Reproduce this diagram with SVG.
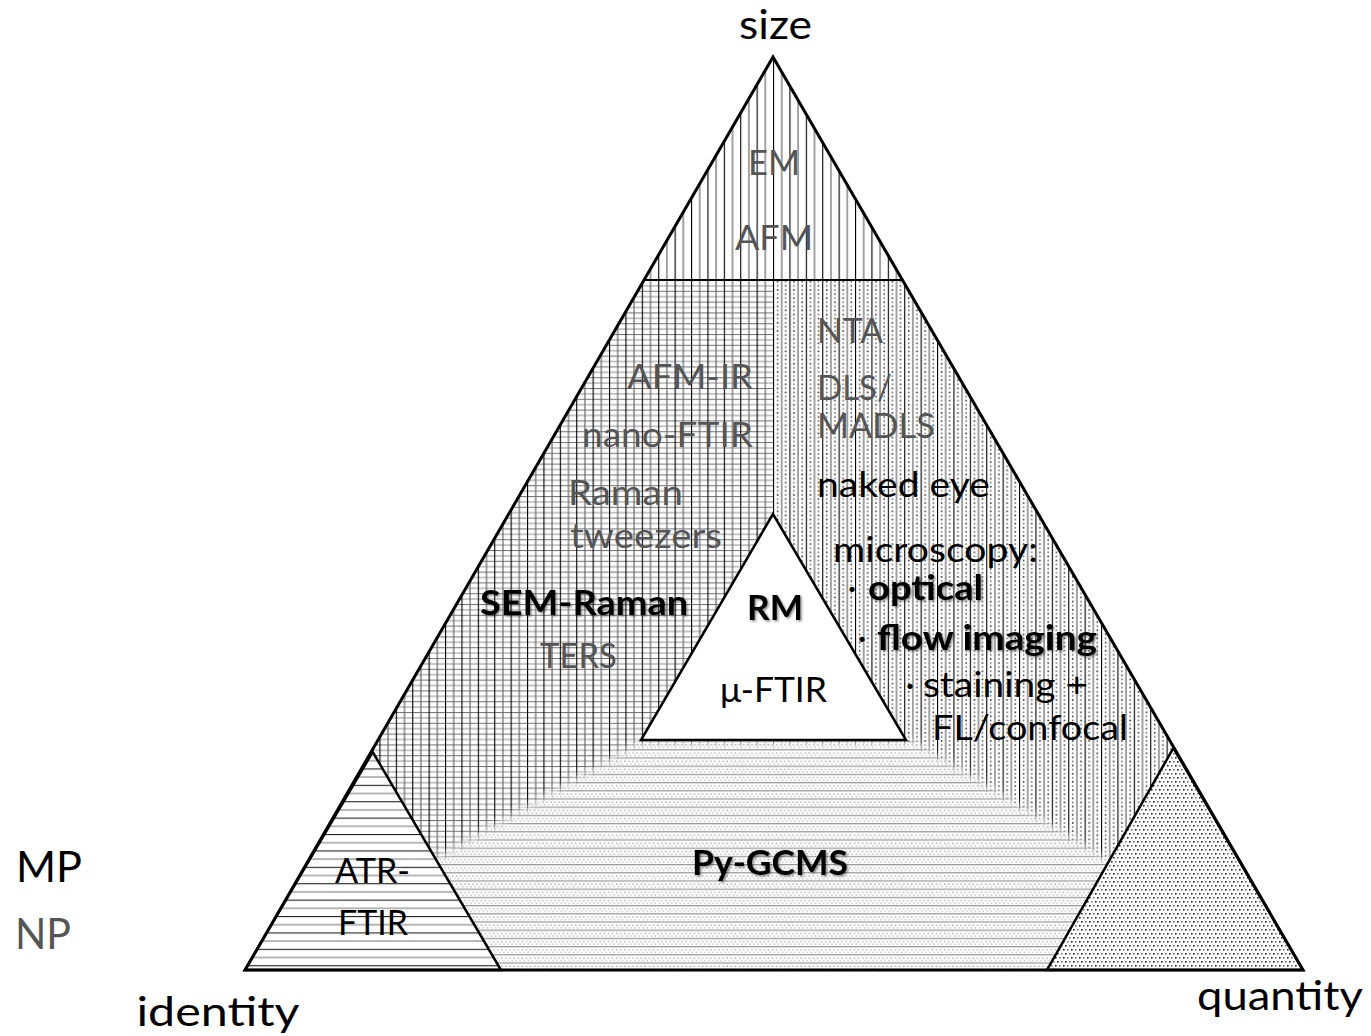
<svg xmlns="http://www.w3.org/2000/svg" width="1371" height="1036" viewBox="0 0 1371 1036">
<defs>
<style>
text{font-family:Lato,"Liberation Sans",sans-serif;font-size:35px;fill:#000}
.g{fill:#555}
.b{font-weight:bold;filter:url(#ts)}
.ax{font-size:40px}
.big{font-size:43px}
.edge{fill:none;stroke:#000;stroke-linejoin:miter}
</style>
<pattern id="pV" patternUnits="userSpaceOnUse" x="773" y="0" width="16.4" height="10">
<rect width="16.4" height="10" fill="#fff"/>
<line x1="0.5" y1="0" x2="0.5" y2="10" stroke="#000" stroke-width="1.2"/>
<line x1="8.7" y1="0" x2="8.7" y2="10" stroke="#666" stroke-width="1.2"/>
</pattern>
<pattern id="pGrid" patternUnits="userSpaceOnUse" x="773" y="280" width="16.4" height="10.8">
<rect width="16.4" height="10.8" fill="#fff"/>
<line x1="0" y1="0.5" x2="16.4" y2="0.5" stroke="#777" stroke-width="1.1"/>
<line x1="0" y1="5.9" x2="16.4" y2="5.9" stroke="#999" stroke-width="1.1"/>
<line x1="0.5" y1="0" x2="0.5" y2="10.8" stroke="#000" stroke-width="1.2"/>
<line x1="8.7" y1="0" x2="8.7" y2="10.8" stroke="#666" stroke-width="1.2"/>
</pattern>
<pattern id="pVD" patternUnits="userSpaceOnUse" x="773" y="280" width="16.4" height="8.2">
<rect width="16.4" height="8.2" fill="#fff"/>
<rect x="3.8" y="1" width="1.5" height="1.5" fill="#222"/>
<rect x="3.8" y="5.1" width="1.5" height="1.5" fill="#666"/>
<rect x="12" y="1" width="1.5" height="1.5" fill="#666"/>
<rect x="12" y="5.1" width="1.5" height="1.5" fill="#222"/>
<line x1="0.5" y1="0" x2="0.5" y2="8.2" stroke="#000" stroke-width="1.2"/>
<line x1="8.7" y1="0" x2="8.7" y2="8.2" stroke="#666" stroke-width="1.2"/>
</pattern>
<pattern id="pPy" patternUnits="userSpaceOnUse" x="0" y="741" width="8.2" height="8.2">
<rect width="8.2" height="8.2" fill="#fff"/>
<line x1="0" y1="0.6" x2="8.2" y2="0.6" stroke="#999" stroke-width="1.3"/>
<rect x="1" y="3.3" width="1.3" height="1.2" fill="#999"/>
<rect x="5.1" y="3.3" width="1.3" height="1.2" fill="#999"/>
<rect x="3" y="5.8" width="1.3" height="1.2" fill="#aaa"/>
<rect x="7" y="5.8" width="1.2" height="1.2" fill="#aaa"/>
</pattern>
<pattern id="pH" patternUnits="userSpaceOnUse" x="0" y="752" width="10" height="16.4">
<rect width="10" height="16.4" fill="#fff"/>
<line x1="0" y1="0.5" x2="10" y2="0.5" stroke="#222" stroke-width="1.2"/>
<line x1="0" y1="8.7" x2="10" y2="8.7" stroke="#888" stroke-width="1.2"/>
</pattern>
<pattern id="pDot" patternUnits="userSpaceOnUse" x="0" y="0" width="8" height="8">
<rect width="8" height="8" fill="#fff"/>
<rect x="1" y="1" width="1.6" height="1.6" fill="#222"/>
<rect x="5" y="1" width="1.6" height="1.6" fill="#777"/>
<rect x="3" y="5" width="1.6" height="1.6" fill="#777"/>
<rect x="7" y="5" width="1" height="1.6" fill="#222"/>
<rect x="0" y="5" width="0.6" height="1.6" fill="#222"/>
</pattern>
<clipPath id="outerClip"><polygon points="773,57 245,970 1303,970"/></clipPath>
<filter id="soft" filterUnits="userSpaceOnUse" x="0" y="0" width="1371" height="1036"><feGaussianBlur stdDeviation="5"/></filter>
<mask id="pyMask" maskUnits="userSpaceOnUse" x="0" y="0" width="1371" height="1036">
<polygon points="405,876 641,741 913,741 1140,879 1140,1010 405,1010" fill="#fff" filter="url(#soft)"/>
</mask>
<filter id="ts" x="-10%" y="-30%" width="130%" height="170%"><feDropShadow dx="1.5" dy="1.5" stdDeviation="1" flood-color="#000" flood-opacity="0.45"/></filter>
</defs>
<rect width="1371" height="1036" fill="#fff"/>

<g id="regions" clip-path="url(#outerClip)">
<polygon id="top-region" points="773,57 644,280 902.5,280" fill="url(#pV)"/>
<polygon id="left-region" points="644,280 773,280 773,970 245,970" fill="url(#pGrid)"/>
<polygon id="right-region" points="773,280 902.5,280 1303,970 773,970" fill="url(#pVD)"/>
<rect id="py-region" x="245" y="700" width="1060" height="280" fill="url(#pPy)" mask="url(#pyMask)"/>
<polygon id="atr-region" points="372.7,752 245,970 501,970" fill="url(#pH)"/>
<polygon id="quant-region" points="1173.4,748 1047,970 1303,970" fill="url(#pDot)"/>
</g>

<g id="outlines">
<line x1="644" y1="280" x2="902.5" y2="280" stroke="#000" stroke-width="2"/>
<polygon class="edge" points="372.7,752 245,970 501,970" stroke-width="2.5"/>
<polygon class="edge" points="1173.4,748 1047,970 1303,970" stroke-width="2.5"/>
<polygon id="rm-triangle" points="773,514 641,740 906,740" fill="#fff" stroke="#000" stroke-width="2.5" stroke-linejoin="miter"/>
<polygon class="edge" points="773,57 245,970 1303,970" stroke-width="3"/>
</g>

<g id="axis-labels">
<text class="ax" x="775.5" y="39" text-anchor="middle" textLength="73" lengthAdjust="spacingAndGlyphs">size</text>
<text class="ax" x="218" y="1026" text-anchor="middle" textLength="163" lengthAdjust="spacingAndGlyphs">identity</text>
<text class="ax" x="1280" y="1010" text-anchor="middle" textLength="166" lengthAdjust="spacingAndGlyphs">quantity</text>
<text class="big" x="16" y="882" textLength="66" lengthAdjust="spacingAndGlyphs">MP</text>
<text class="big g" x="15" y="949" textLength="56" lengthAdjust="spacingAndGlyphs">NP</text>
</g>

<g id="top-labels">
<text class="g" x="774" y="175" text-anchor="middle" textLength="52" lengthAdjust="spacingAndGlyphs">EM</text>
<text class="g" x="774" y="250" text-anchor="middle" textLength="78" lengthAdjust="spacingAndGlyphs">AFM</text>
</g>

<g id="left-labels">
<text class="g" x="753" y="389" text-anchor="end" textLength="126" lengthAdjust="spacingAndGlyphs">AFM-IR</text>
<text class="g" x="753" y="447" text-anchor="end" textLength="171" lengthAdjust="spacingAndGlyphs">nano-FTIR</text>
<text class="g" x="568" y="505" textLength="115" lengthAdjust="spacingAndGlyphs">Raman</text>
<text class="g" x="570" y="548" textLength="152" lengthAdjust="spacingAndGlyphs">tweezers</text>
<text class="b" x="480" y="615" textLength="208" lengthAdjust="spacingAndGlyphs">SEM-Raman</text>
<text class="g" x="540" y="668" textLength="77" lengthAdjust="spacingAndGlyphs">TERS</text>
</g>

<g id="right-labels">
<text class="g" x="817" y="343" textLength="66" lengthAdjust="spacingAndGlyphs">NTA</text>
<text class="g" x="817" y="400" textLength="75" lengthAdjust="spacingAndGlyphs">DLS/</text>
<text class="g" x="817" y="438" textLength="118" lengthAdjust="spacingAndGlyphs">MADLS</text>
<text x="817" y="497" textLength="173" lengthAdjust="spacingAndGlyphs">naked eye</text>
<text x="833" y="562" textLength="205" lengthAdjust="spacingAndGlyphs">microscopy:</text>
<text x="852" y="600" text-anchor="middle">·</text>
<text class="b" x="868" y="600" textLength="115" lengthAdjust="spacingAndGlyphs">optical</text>
<text x="862" y="650" text-anchor="middle">·</text>
<text class="b" x="877" y="650" textLength="220" lengthAdjust="spacingAndGlyphs">flow imaging</text>
<text x="910" y="697" text-anchor="middle">·</text>
<text x="923" y="697" textLength="165" lengthAdjust="spacingAndGlyphs">staining +</text>
<text x="932" y="740" textLength="196" lengthAdjust="spacingAndGlyphs">FL/confocal</text>
</g>

<g id="center-labels">
<text class="b" x="747" y="620" textLength="56" lengthAdjust="spacingAndGlyphs">RM</text>
<text x="720" y="702" textLength="107" lengthAdjust="spacingAndGlyphs">μ-FTIR</text>
</g>

<g id="bottom-labels">
<text x="335" y="883" textLength="75" lengthAdjust="spacingAndGlyphs">ATR-</text>
<text x="338" y="935" textLength="70" lengthAdjust="spacingAndGlyphs">FTIR</text>
<text class="b" x="692" y="875" textLength="156" lengthAdjust="spacingAndGlyphs">Py-GCMS</text>
</g>
</svg>
